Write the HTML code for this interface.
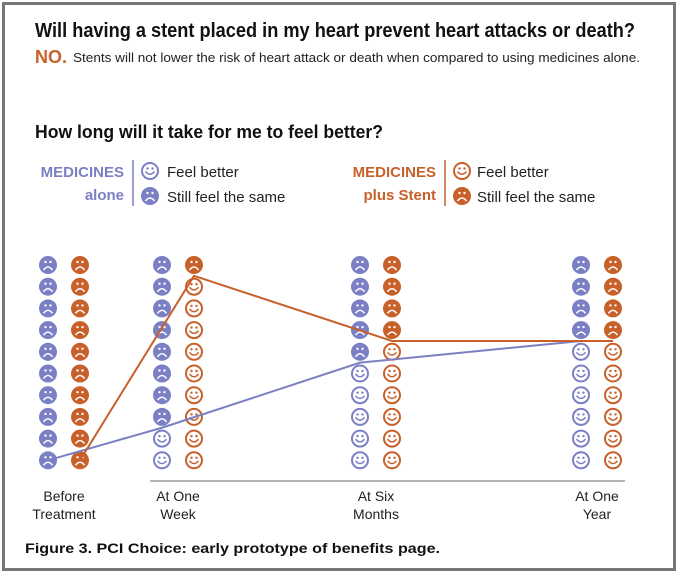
<!DOCTYPE html>
<html><head><meta charset="utf-8"><style>
body{margin:0;background:#fff}
svg{display:block}
text{font-family:"Liberation Sans",sans-serif}
</style></head><body>
<svg id="chart" width="678" height="574" viewBox="0 0 678 574">
<rect x="3.5" y="3.5" width="671" height="566" fill="#fff" stroke="#777" stroke-width="3"/>
<text x="35" y="37" font-size="20" font-weight="bold" textLength="600" lengthAdjust="spacingAndGlyphs" fill="#111">Will having a stent placed in my heart prevent heart attacks or death?</text>
<text x="35" y="63" font-size="18" font-weight="bold" fill="#c8602a">NO.</text>
<text x="73" y="62" font-size="13" textLength="567" lengthAdjust="spacingAndGlyphs" fill="#222">Stents will not lower the risk of heart attack or death when compared to using medicines alone.</text>
<text x="35" y="138" font-size="18" font-weight="bold" textLength="348" lengthAdjust="spacingAndGlyphs" fill="#111">How long will it take for me to feel better?</text>
<g>
<text x="124" y="177" font-size="15" font-weight="bold" text-anchor="end" fill="#7b7fc4">MEDICINES</text>
<text x="124" y="200" font-size="15" font-weight="bold" text-anchor="end" fill="#7b7fc4">alone</text>
<line x1="133" y1="160" x2="133" y2="206" stroke="#7b7fc4" stroke-width="1.5"/>
<g id="legend-icons-blue"></g>
<text x="167" y="177" font-size="15" fill="#222">Feel better</text>
<text x="167" y="202" font-size="15" fill="#222">Still feel the same</text>
</g>
<g>
<text x="436" y="177" font-size="15" font-weight="bold" text-anchor="end" fill="#c8602a">MEDICINES</text>
<text x="436" y="200" font-size="15" font-weight="bold" text-anchor="end" fill="#c8602a">plus Stent</text>
<line x1="445" y1="160" x2="445" y2="206" stroke="#c8602a" stroke-width="1.5"/>
<g id="legend-icons-orange"></g>
<text x="477" y="177" font-size="15" fill="#222">Feel better</text>
<text x="477" y="202" font-size="15" fill="#222">Still feel the same</text>
</g>
<g id="icons"></g>
<g id="lines"></g>
<line x1="150" y1="481" x2="625" y2="481" stroke="#888" stroke-width="1.2"/>
<g id="labels"></g>
<text x="25" y="553" font-size="14" font-weight="bold" font-family="DejaVu Sans, sans-serif" textLength="415" lengthAdjust="spacingAndGlyphs" fill="#111">Figure 3. PCI Choice: early prototype of benefits page.</text>
</svg>
<script>
const categories = [["Before","Treatment"],["At One","Week"],["At Six","Months"],["At One","Year"]];
const medicinesAlone = [0, 2, 5, 6];
const medicinesStent = [0, 9, 6, 6];
const total = 10;

const BLUE = "#7b7fc4", ORANGE = "#c8602a";
const NS = "http://www.w3.org/2000/svg";
const groupX = [64, 178, 376, 597];
const colOffset = 16;
const rowTop = 265, rowStep = 21.7, R = 9;
function xScale(i, s){ return groupX[i] + (s === 0 ? -colOffset : colOffset); }
function rowY(r){ return rowTop + r * rowStep; }
function levelY(n){ return n === 0 ? rowY(total - 1) : rowTop + (total - n - 0.5) * rowStep; }
function mk(tag, attrs, parent){ const e = document.createElementNS(NS, tag); for (const k in attrs) e.setAttribute(k, attrs[k]); parent.appendChild(e); return e; }

function face(parent, cx, cy, color, happy){
  const g = mk("g", {}, parent);
  if (happy){
    mk("circle", {cx, cy, r: R - 1, fill: "#fff", stroke: color, "stroke-width": 2}, g);
    mk("circle", {cx: cx - 2.5, cy: cy - 2.5, r: 1.2, fill: color}, g);
    mk("circle", {cx: cx + 2.5, cy: cy - 2.5, r: 1.2, fill: color}, g);
    mk("path", {d: `M${cx-4.5} ${cy+0.5} Q${cx} ${cy+6} ${cx+4.5} ${cy+0.5}`, fill: "none", stroke: color, "stroke-width": 1.5}, g);
  } else {
    mk("circle", {cx, cy, r: R, fill: color}, g);
    mk("circle", {cx: cx - 2.5, cy: cy - 3, r: 1.2, fill: "#fff"}, g);
    mk("circle", {cx: cx + 2.5, cy: cy - 3, r: 1.2, fill: "#fff"}, g);
    mk("path", {d: `M${cx-4.5} ${cy+5} Q${cx} ${cy-1} ${cx+4.5} ${cy+5}`, fill: "none", stroke: "#fff", "stroke-width": 1.5}, g);
  }
  return g;
}

[["legend-icons-blue", 150, BLUE], ["legend-icons-orange", 462, ORANGE]].forEach(([id, x, c]) => {
  const p = document.getElementById(id);
  const a = face(p, x, 171, c, true);
  
  
  const b = face(p, x, 196, c, false);
  
  
});

const icons = document.getElementById("icons");
[medicinesAlone, medicinesStent].forEach((series, s) => {
  const color = s === 0 ? BLUE : ORANGE;
  series.forEach((v, i) => {
    const col = mk("g", {}, icons);
    
    
    for (let r = 0; r < total; r++){
      const happy = r >= total - v;
      const f = face(col, xScale(i, s), rowY(r), color, happy);
      
      
    }
  });
});

const lines = document.getElementById("lines");
[medicinesAlone, medicinesStent].forEach((series, s) => {
  const pts = series.map((v, i) => xScale(i, s) + "," + levelY(v)).join(" ");
  const pl = mk("polyline", {points: pts, fill: "none", stroke: s === 0 ? BLUE : ORANGE, "stroke-width": 2}, lines);
  
  
});

const labels = document.getElementById("labels");
categories.forEach((c, i) => {
  const t = mk("text", {x: groupX[i], y: 501, "font-size": 14, "text-anchor": "middle", fill: "#222"}, labels);
  
  
  mk("tspan", {x: groupX[i], dy: 0}, t).textContent = c[0];
  mk("tspan", {x: groupX[i], dy: 18}, t).textContent = c[1];
});
</script>
</body></html>
